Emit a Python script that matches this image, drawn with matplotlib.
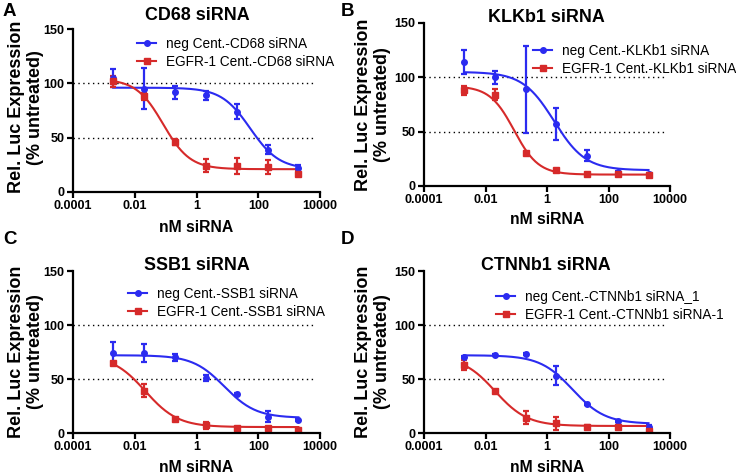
import numpy as np
import matplotlib
matplotlib.use("Agg")
import matplotlib.pyplot as plt

plt.rcParams["font.family"] = ["Liberation Sans", "DejaVu Sans"]

# siRNA doses (nM), same for every panel
dose = [0.002, 0.02, 0.2, 2, 20, 200, 2000]

panel_letters = ["A", "B", "C", "D"]
titles = ["CD68 siRNA", "KLKb1 siRNA", "SSB1 siRNA", "CTNNb1 siRNA"]
neg_labels = ["neg Cent.-CD68 siRNA", "neg Cent.-KLKb1 siRNA",
              "neg Cent.-SSB1 siRNA", "neg Cent.-CTNNb1 siRNA_1"]
egfr_labels = ["EGFR-1 Cent.-CD68 siRNA", "EGFR-1 Cent.-KLKb1 siRNA",
               "EGFR-1 Cent.-SSB1 siRNA", "EGFR-1 Cent.-CTNNb1 siRNA-1"]

# mean and error (% untreated)
neg_mean = [
    [105, 95, 92, 89, 74, 39, 22],
    [114, 100, 89, 57, 28, 13, 11],
    [74, 74, 70, 51, 36, 15, 12],
    [70, 72, 73, 53, 27, 11, 6],
]
neg_err = [
    [8, 19, 6, 4, 7, 4, 3],
    [11, 6, 40, 15, 5, 1, 1],
    [10, 8, 3, 3, 1, 5, 1],
    [1, 1, 1, 9, 1, 1, 1],
]
egfr_mean = [
    [102, 88, 46, 24, 24, 23, 17],
    [88, 84, 30, 15, 11, 11, 10],
    [65, 39, 13, 7, 5, 5, 3],
    [63, 39, 14, 9, 6, 6, 2],
]
egfr_err = [
    [5, 3, 3, 6, 7, 6, 2],
    [4, 5, 1, 1, 1, 1, 1],
    [1, 6, 1, 3, 1, 1, 1],
    [5, 1, 6, 6, 1, 1, 3],
]

# 4-parameter logistic fits: top, bottom, IC50 (nM), hill slope
neg_fit = [
    [96, 21, 55, 0.93],
    [105, 14.5, 1.7, 0.85],
    [72, 14, 8, 0.85],
    [72, 8.5, 6.8, 0.82],
]
egfr_fit = [
    [104, 21, 0.083, 1.0],
    [92, 10.5, 0.085, 1.1],
    [72, 5.5, 0.022, 0.82],
    [71, 6.5, 0.0205, 0.83],
]

BLUE = "#2b2bf0"
RED = "#d62a2a"
W, H = 736, 476

# axes boxes in pixels: left, top, right, bottom
axes_px = [(73, 29, 320, 192), (424, 23, 670, 186),
           (73, 271, 320, 433), (424, 271, 670, 433)]
title_px = [(197, 16), (546, 17), (197, 265), (546, 265)]
xlabel_y = [227, 220, 468, 468]
legend_px = [(137, 37), (533, 44), (128, 287), (496, 290)]
letter_px = [(3, 3), (341, 3), (3, 231), (341, 231)]
ylabel_xy = [(-0.117, 0.52), (-0.134, 0.5), (-0.117, 0.5), (-0.134, 0.5)]


def logistic(x, top, bottom, ic50, hill):
    return bottom + (top - bottom) / (1 + (x / ic50) ** hill)


fig = plt.figure(figsize=(W / 100, H / 100), dpi=100)
xs = np.logspace(np.log10(dose[0]), np.log10(dose[-1]), 200)

for i in range(4):
    l, t, r, b = axes_px[i]
    ax = fig.add_axes([l / W, 1 - b / H, (r - l) / W, (b - t) / H])
    ax.set_xscale("log")
    ax.set_xlim(1e-4, 1e4)
    ax.set_ylim(0, 150)

    ax.plot([1e-4, 7e3], [100, 100], ls=(0, (1, 2.5)), color="black", lw=1)
    ax.plot([1e-4, 7e3], [50, 50], ls=(0, (1, 2.5)), color="black", lw=1)

    for mean, err, fit, col, mk, lab in [
        (neg_mean[i], neg_err[i], neg_fit[i], BLUE, "o", neg_labels[i]),
        (egfr_mean[i], egfr_err[i], egfr_fit[i], RED, "s", egfr_labels[i]),
    ]:
        ax.errorbar(dose, mean, yerr=err, fmt=mk, color=col, ms=4,
                    capsize=2.5, elinewidth=1.6, capthick=1.6)
        ax.plot(xs, logistic(xs, *fit), color=col, lw=1.5)
        ax.plot([], [], color=col, marker=mk, ms=4, lw=1.5, label=lab)

    lx, ly = legend_px[i]
    ax.legend(loc="upper left", bbox_to_anchor=(lx / W, 1 - ly / H),
              bbox_transform=fig.transFigure, frameon=False, fontsize=9.8,
              borderpad=0, borderaxespad=0, handlelength=1.4,
              handletextpad=0.75, labelspacing=0.3)

    ax.set_xticks([1e-4, 1e-2, 1, 1e2, 1e4])
    ax.set_xticklabels(["0.0001", "0.01", "1", "100", "10000"])
    ax.minorticks_off()
    ax.set_yticks([0, 50, 100, 150])
    for lbl in ax.get_xticklabels() + ax.get_yticklabels():
        lbl.set_fontweight("bold")
        lbl.set_fontsize(9)
    ax.tick_params(direction="out", width=1.6, length=4, pad=2)
    for s in ["top", "right"]:
        ax.spines[s].set_visible(False)
    for s in ["left", "bottom"]:
        ax.spines[s].set_linewidth(1.6)

    tx, ty = title_px[i]
    fig.text(tx / W, 1 - ty / H, titles[i], fontsize=12.9, fontweight="bold",
             ha="center", va="center")
    fig.text((l + r) / 2 / W, 1 - xlabel_y[i] / H, "nM siRNA", fontsize=11.3,
             fontweight="bold", ha="center", va="center")
    ax.set_ylabel("Rel. Luc Expression\n(% untreated)", fontsize=13,
                  fontweight="bold", linespacing=1.15)
    ax.yaxis.set_label_coords(*ylabel_xy[i])

    px, py = letter_px[i]
    fig.text(px / W, 1 - py / H, panel_letters[i],
             fontsize=13.5, fontweight="bold", va="top", ha="left")

fig.savefig("out.png", dpi=100)
